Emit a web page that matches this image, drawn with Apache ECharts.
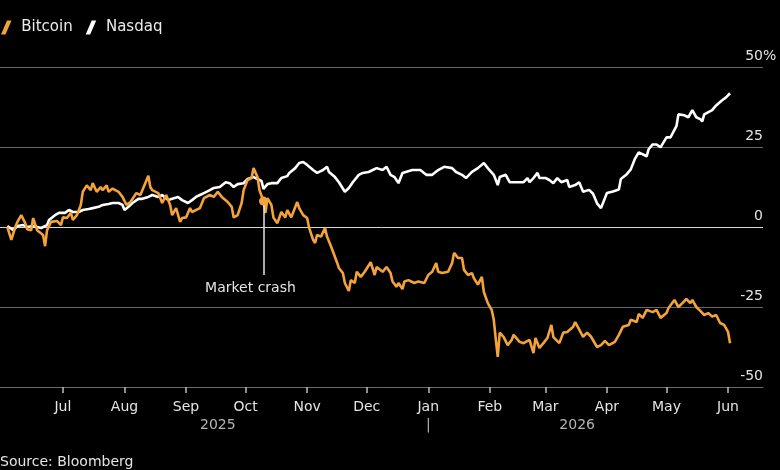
<!DOCTYPE html>
<html>
<head>
<meta charset="utf-8">
<script src="https://cdn.jsdelivr.net/npm/echarts@6.0.0/dist/echarts.min.js"></script>
<style>
  html, body { margin: 0; padding: 0; background: #000; }
  #chart { width: 780px; height: 470px; }
</style>
</head>
<body>
<div id="chart"></div>
<script>
// X values are days since 2025-07-01; Y values are % change.
const monthTickDays = [0, 31, 62, 92, 123, 153, 184, 215, 243, 274, 304, 335];
const monthLabels = ['Jul', 'Aug', 'Sep', 'Oct', 'Nov', 'Dec', 'Jan', 'Feb', 'Mar', 'Apr', 'May', 'Jun'];
const yearLabelDays = [78, 184, 259];
const yearLabels = ['2025', '|', '2026'];
const seriesNames = ['Bitcoin', 'Nasdaq'];

const btcDays = [-28,-26,-24,-23,-21,-19,-18,-16,-15,-13,-12,-10,-9,-8,-6,-3,-1,0,2,4,5,7,9,10,12,14,15,17,19,20,22,23,25,28,30,32,34,35,37,39,41,43,44,45,48,50,52,54,55,57,59,60,62,64,65,66,69,71,74,76,78,80,83,85,86,88,90,91,93,95,96,98,99,101,102,103,105,106,108,110,112,113,115,118,119,121,123,124,126,127,128,130,132,133,135,138,139,141,142,144,145,147,148,150,152,153,155,157,158,161,163,165,166,168,169,171,172,174,177,179,182,184,186,188,189,191,194,196,197,199,201,202,204,206,207,209,211,212,214,216,217,218,219,220,222,224,226,227,230,232,235,237,238,240,242,244,246,247,250,252,254,255,257,258,260,262,264,266,269,271,273,275,278,280,282,285,286,289,290,292,294,297,299,301,304,305,308,310,312,314,316,317,319,321,323,325,327,329,331,333,335,336];
const btcValues = [0,-4,0,1.5,3.7,1.2,-0.7,-1,2.8,-1,-1.5,-2.5,-6,-1,1.6,1.9,0.6,3,2.8,4.4,2.2,3.7,6.9,11,13,11.5,13.7,11,12.5,11.5,13,11,12,11,9.4,6.9,7.8,7.5,10.6,10,13,16,12.5,11.5,10.6,7.5,10,6.9,3.7,5.9,1.6,2.8,3,5.9,4.7,4.4,5.9,9,10,9.4,11,9.4,7.8,6.3,3,3.7,7.5,11.5,14.7,15.3,18.4,15.6,11.5,8.1,4.4,9,6.9,3,1.2,4.7,3,5.3,3,7.8,5.9,3.7,2.8,-0.3,-4,-5,-2.5,-3,-0.3,-3,-6,-11,-12.8,-14.4,-17.5,-20,-16.6,-17.5,-14,-15.6,-14,-14.4,-11,-15,-12.5,-14,-12.5,-14.4,-17,-18.7,-17.5,-19.4,-17,-16.6,-17.5,-17,-17.5,-15,-14,-11.3,-14,-14.4,-14,-11.3,-8.1,-9.7,-9.7,-13.4,-15,-14.4,-16,-18,-15.6,-20.3,-23.8,-26,-29,-35,-40.6,-33,-34.4,-36.9,-35.3,-33.7,-35.9,-36.3,-35.3,-39.4,-34.7,-37.8,-36.3,-34.7,-30.6,-34.4,-36.3,-33,-32.8,-33,-31.2,-29.7,-32,-34.3,-33,-34.3,-37.5,-36.9,-35.6,-36.9,-35.9,-33.7,-31.2,-30.6,-29,-29.7,-27.2,-28.4,-25.9,-26.6,-25.9,-28.4,-26.9,-25.3,-22.8,-25,-23.8,-22.5,-23.8,-22.8,-25,-26.2,-27.5,-26.9,-28,-27.5,-30,-30.6,-32.8,-36.3];

const ndxDays = [-28,-25,-23,-20,-18,-15,-13,-11,-8,-7,-4,-2,1,3,5,8,10,13,15,18,20,23,25,28,30,31,33,35,38,40,43,45,48,50,53,55,58,60,63,65,67,69,71,74,76,79,82,84,86,88,91,93,96,98,100,101,103,105,106,108,110,113,114,117,119,121,123,124,126,128,131,133,134,137,139,142,144,146,149,151,154,156,158,161,163,165,167,169,171,176,180,183,186,189,192,196,198,201,203,206,209,212,214,215,217,219,220,223,225,229,232,234,235,237,239,240,243,245,247,249,251,254,255,258,260,262,265,267,269,271,272,274,277,280,281,284,286,288,290,294,295,297,299,301,304,306,309,310,313,315,317,319,321,322,323,327,329,332,334,336];
const ndxValues = [0.3,-1,0.3,0.6,0,0.3,0,-0.3,0.6,2.2,3.7,4.4,4.4,5.3,4.7,4.7,5.3,5.6,5.9,6.3,6.9,7.2,7.5,7.5,6.9,5.3,6.3,7.5,8.8,8.8,9.4,10,9.4,10,8.4,8.8,9.4,8.4,7.5,8.4,9.4,10,10.6,11.5,12.2,12.5,14,13.7,12.5,13.4,13.7,15,15.6,15,14.4,11.9,13.4,13.7,14,13.7,15.3,15.9,16.9,18.4,20,20.3,19.4,19.7,17.8,16.9,17.8,18.8,17.2,15.6,14,11,12.2,14,16.3,16.9,17.2,17.8,18.4,17.8,18.8,16.3,15.6,13.7,16.9,17.8,17.8,16.3,16.3,17.8,18.8,18.4,17.2,16.3,15.3,17.2,18.4,20,18.4,18.8,16.3,13.1,15.6,16.3,14,14,14,15.3,14,15.3,16.9,15.3,15.3,14.7,13.7,15.3,14,14.7,12.5,13.1,14,11,11.6,10.4,7.4,5.9,5.8,10.6,11.1,11.7,15,16.5,18,21.2,23.3,22.1,24.3,25.8,25.8,24.9,28,28,31.5,35.2,34.9,34.3,36.5,34.3,33.7,33,35.2,36.5,38,39.6,40.5,41.8];

const crashDay = 101;      // 2025-10-10
const crashValue = 8.1;
const crashLineEnd = -15;

const BTC_COLOR = '#f4a23a';
const FONT = 'DejaVu Sans';

const zip = (xs, ys) => xs.map((x, i) => [x, ys[i]]);

const chart = echarts.init(document.getElementById('chart'), null, { renderer: 'canvas' });

chart.setOption({
  backgroundColor: '#000000',
  animation: false,
  textStyle: { fontFamily: FONT },
  title: {
    text: 'Source: Bloomberg',
    left: 0, top: 455, padding: 0,
    textStyle: { color: '#e4e4e4', fontSize: 14, fontWeight: 'normal', fontFamily: FONT }
  },
  legend: {
    data: seriesNames,
    left: 1, top: 20, padding: 0,
    itemWidth: 20, itemHeight: 14, itemGap: 13,
    icon: 'path://M0,14L6,0L10.5,0L4.5,14Z',
    textStyle: { color: '#ececec', fontSize: 15, fontFamily: FONT }
  },
  grid: { left: 0, right: 17, top: 67, bottom: 83, containLabel: false, outerBoundsMode: 'none' },
  xAxis: [
    {
      type: 'value', min: -31.7, max: 352.6, position: 'bottom',
      axisLine: { show: true, onZero: false, lineStyle: { color: '#6a6a6a', width: 1 } },
      axisTick: { show: true, length: 6, customValues: monthTickDays, lineStyle: { color: '#bdbdbd', width: 1.5 } },
      axisLabel: {
        customValues: monthTickDays,
        formatter: v => monthLabels[monthTickDays.indexOf(v)],
        color: '#e4e4e4', fontSize: 14, margin: 13, fontFamily: FONT
      },
      splitLine: { show: false }
    },
    {
      type: 'value', min: -31.7, max: 352.6, position: 'bottom',
      axisLine: { show: false, onZero: false }, axisTick: { show: false }, splitLine: { show: false },
      axisLabel: {
        customValues: yearLabelDays,
        formatter: v => yearLabels[yearLabelDays.indexOf(v)],
        color: '#b4b4b4', fontSize: 14, margin: 31, fontFamily: FONT
      }
    }
  ],
  yAxis: {
    type: 'value', position: 'right', min: -50, max: 50, interval: 25,
    axisLine: { show: false }, axisTick: { show: false },
    splitLine: {
      show: true, showMinLine: true, showMaxLine: true,
      lineStyle: { color: ['#666666', '#666666', '#d8d8d8', '#666666', '#666666'], width: 1 }
    },
    axisLabel: {
      inside: true, margin: 0, verticalAlign: 'bottom', padding: [0, 0, 4, 0],
      color: '#e4e4e4', fontSize: 14, fontFamily: FONT,
      formatter: v => (v === 50 ? '{n|50}{p|%}' : String(v)),
      rich: {
        n: { align: 'left', color: '#e4e4e4', fontSize: 14, fontFamily: FONT },
        p: { align: 'left', width: 0, color: '#e4e4e4', fontSize: 14, fontFamily: FONT }
      }
    }
  },
  series: [
    {
      name: 'Bitcoin', type: 'line', xAxisIndex: 0,
      data: zip(btcDays, btcValues),
      symbol: 'none', showSymbol: false, z: 3,
      lineStyle: { color: BTC_COLOR, width: 2.6 },
      itemStyle: { color: BTC_COLOR },
      markLine: {
        silent: true, symbol: ['none', 'none'], animation: false,
        lineStyle: { color: '#e4e4e4', width: 1.5, type: 'solid' },
        label: {
          show: true, position: 'end', formatter: 'Market crash',
          color: '#e4e4e4', fontSize: 14, fontFamily: FONT, distance: 6, padding: [0, 26, 0, 0]
        },
        data: [[{ coord: [crashDay, crashValue] }, { coord: [crashDay, crashLineEnd] }]]
      },
      markPoint: {
        silent: true, symbol: 'circle', symbolSize: 9, animation: false,
        itemStyle: { color: BTC_COLOR },
        label: { show: false },
        data: [{ coord: [crashDay, crashValue] }]
      }
    },
    {
      name: 'Nasdaq', type: 'line', xAxisIndex: 0,
      data: zip(ndxDays, ndxValues),
      symbol: 'none', showSymbol: false, z: 2,
      lineStyle: { color: '#ffffff', width: 2.6 },
      itemStyle: { color: '#ffffff' }
    }
  ]
});
</script>
</body>
</html>
